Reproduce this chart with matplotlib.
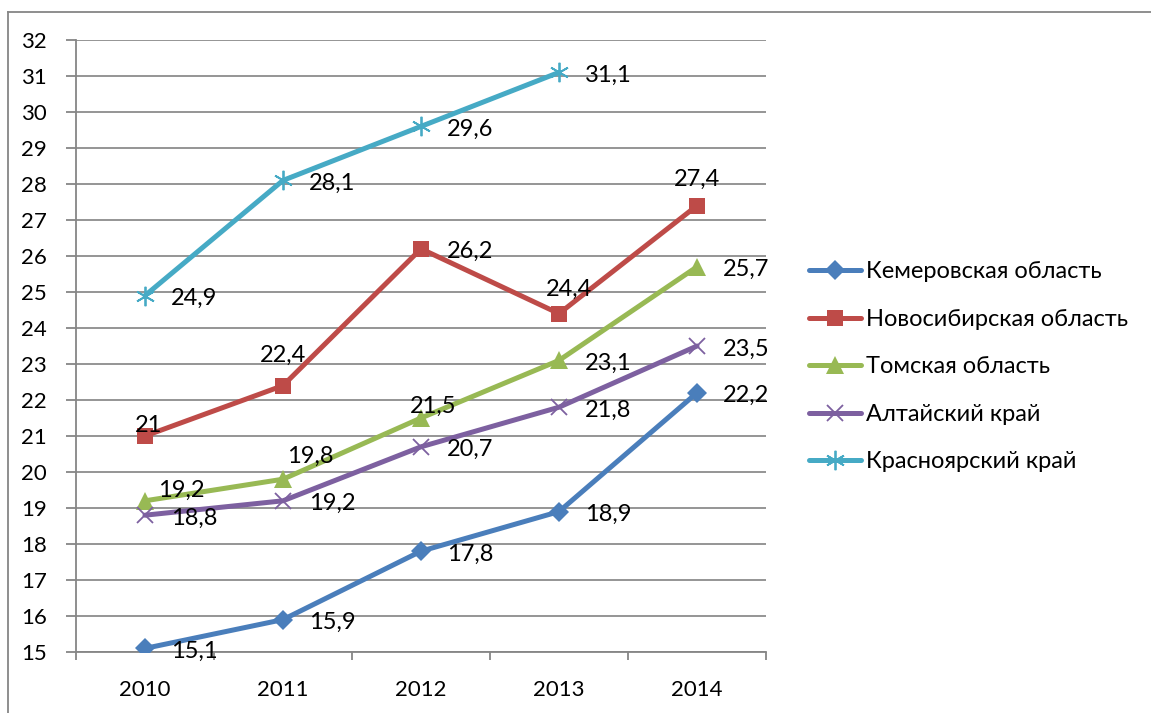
import matplotlib
matplotlib.use("Agg")
import matplotlib.pyplot as plt
from matplotlib.lines import Line2D

years = ["2010", "2011", "2012", "2013", "2014"]
series_names = ["Кемеровская область", "Новосибирская область", "Томская область",
                "Алтайский край", "Красноярский край"]
kemerovo = [15.1, 15.9, 17.8, 18.9, 22.2]
novosib = [21.0, 22.4, 26.2, 24.4, 27.4]
tomsk = [19.2, 19.8, 21.5, 23.1, 25.7]
altai = [18.8, 19.2, 20.7, 21.8, 23.5]
krasnoyarsk = [24.9, 28.1, 29.6, 31.1]
y_ticks = list(range(15, 33))

plt.rcParams['font.family'] = ['Lato', 'DejaVu Sans']
FS_TICK = 16
FS_LAB = 17
FS_LEG = 17

fig = plt.figure(figsize=(11.51, 7.13), dpi=100)
ax = fig.add_axes([76/1151, 1-652/713, 690/1151, 612/713])

colors = ["#4A7EBB", "#BE4B48", "#98B954", "#7D60A0", "#46AAC5"]
data = [kemerovo, novosib, tomsk, altai, krasnoyarsk]
markers = ["D", "s", "^", "x", (6, 2, 0)]
msizes = [10, 11, 13, 12, 14]
mews = [0, 0, 0, 1.3, 1.3]

# label offsets in pixels (dx, dy, ha)
R = (26, -3, 'left')
offsets = [
    [R, R, R, R, R],
    [(4, 11, 'center'), (0, 30, 'center'), R, (10, 24, 'center'), (0, 26, 'center')],
    [(36, 10, 'center'), (27, 23, 'center'), (12, 12, 'center'), R, R],
    [R, R, R, R, R],
    [R, R, R, R],
]

handles = []
for vals, c, m, ms, mew, offs in zip(data, colors, markers, msizes, mews, offsets):
    xs = list(range(len(vals)))
    ln, = ax.plot(xs, vals, color=c, lw=3.6, marker=m, markersize=ms,
                  markerfacecolor=c, markeredgecolor=c, markeredgewidth=mew,
                  solid_joinstyle='round', solid_capstyle='round', zorder=3)
    handles.append(ln)
    for x, v, (dx, dy, ha) in zip(xs, vals, offs):
        txt = f"{v:g}".replace(".", ",")
        ax.annotate(txt, (x, v), xytext=(dx, dy), textcoords='offset pixels',
                    ha=ha, va='center', fontsize=FS_LAB, color='black', zorder=5)

ax.set_xlim(-0.5, 4.5)
ax.set_ylim(15, 32)
ax.set_yticks(y_ticks)
ax.set_xticks(range(len(years)))
ax.set_xticklabels(years)
ax.set_xticks([i - 0.5 for i in range(len(years) + 1)], minor=True)
ax.tick_params(axis='x', which='major', length=0, pad=20, labelsize=FS_TICK)
ax.tick_params(axis='x', which='minor', length=6, width=1.3, color='#868686', direction='out')
ax.tick_params(axis='y', length=7, width=1.3, color='#868686', pad=14, labelsize=FS_TICK)
ax.grid(axis='y', color='#8c8c8c', lw=1.3, zorder=1)
ax.set_axisbelow(True)
for s in ['top', 'right']:
    ax.spines[s].set_visible(False)
for s in ['left', 'bottom']:
    ax.spines[s].set_color('#868686')
    ax.spines[s].set_linewidth(1.3)

leg = fig.legend(handles, series_names, loc='upper left',
                 bbox_to_anchor=(800/1151, 1-252/713), frameon=False,
                 fontsize=FS_LEG, handlelength=2.2, handletextpad=0.2,
                 labelspacing=1.12, borderaxespad=0)

# outer chart border
fig.add_artist(Line2D([8/1151, 8/1151], [0, 1-12/713], color='#868686', lw=1.3))
fig.add_artist(Line2D([8/1151, 1], [1-12/713, 1-12/713], color='#868686', lw=1.3))

fig.savefig("out.png", dpi=100)
